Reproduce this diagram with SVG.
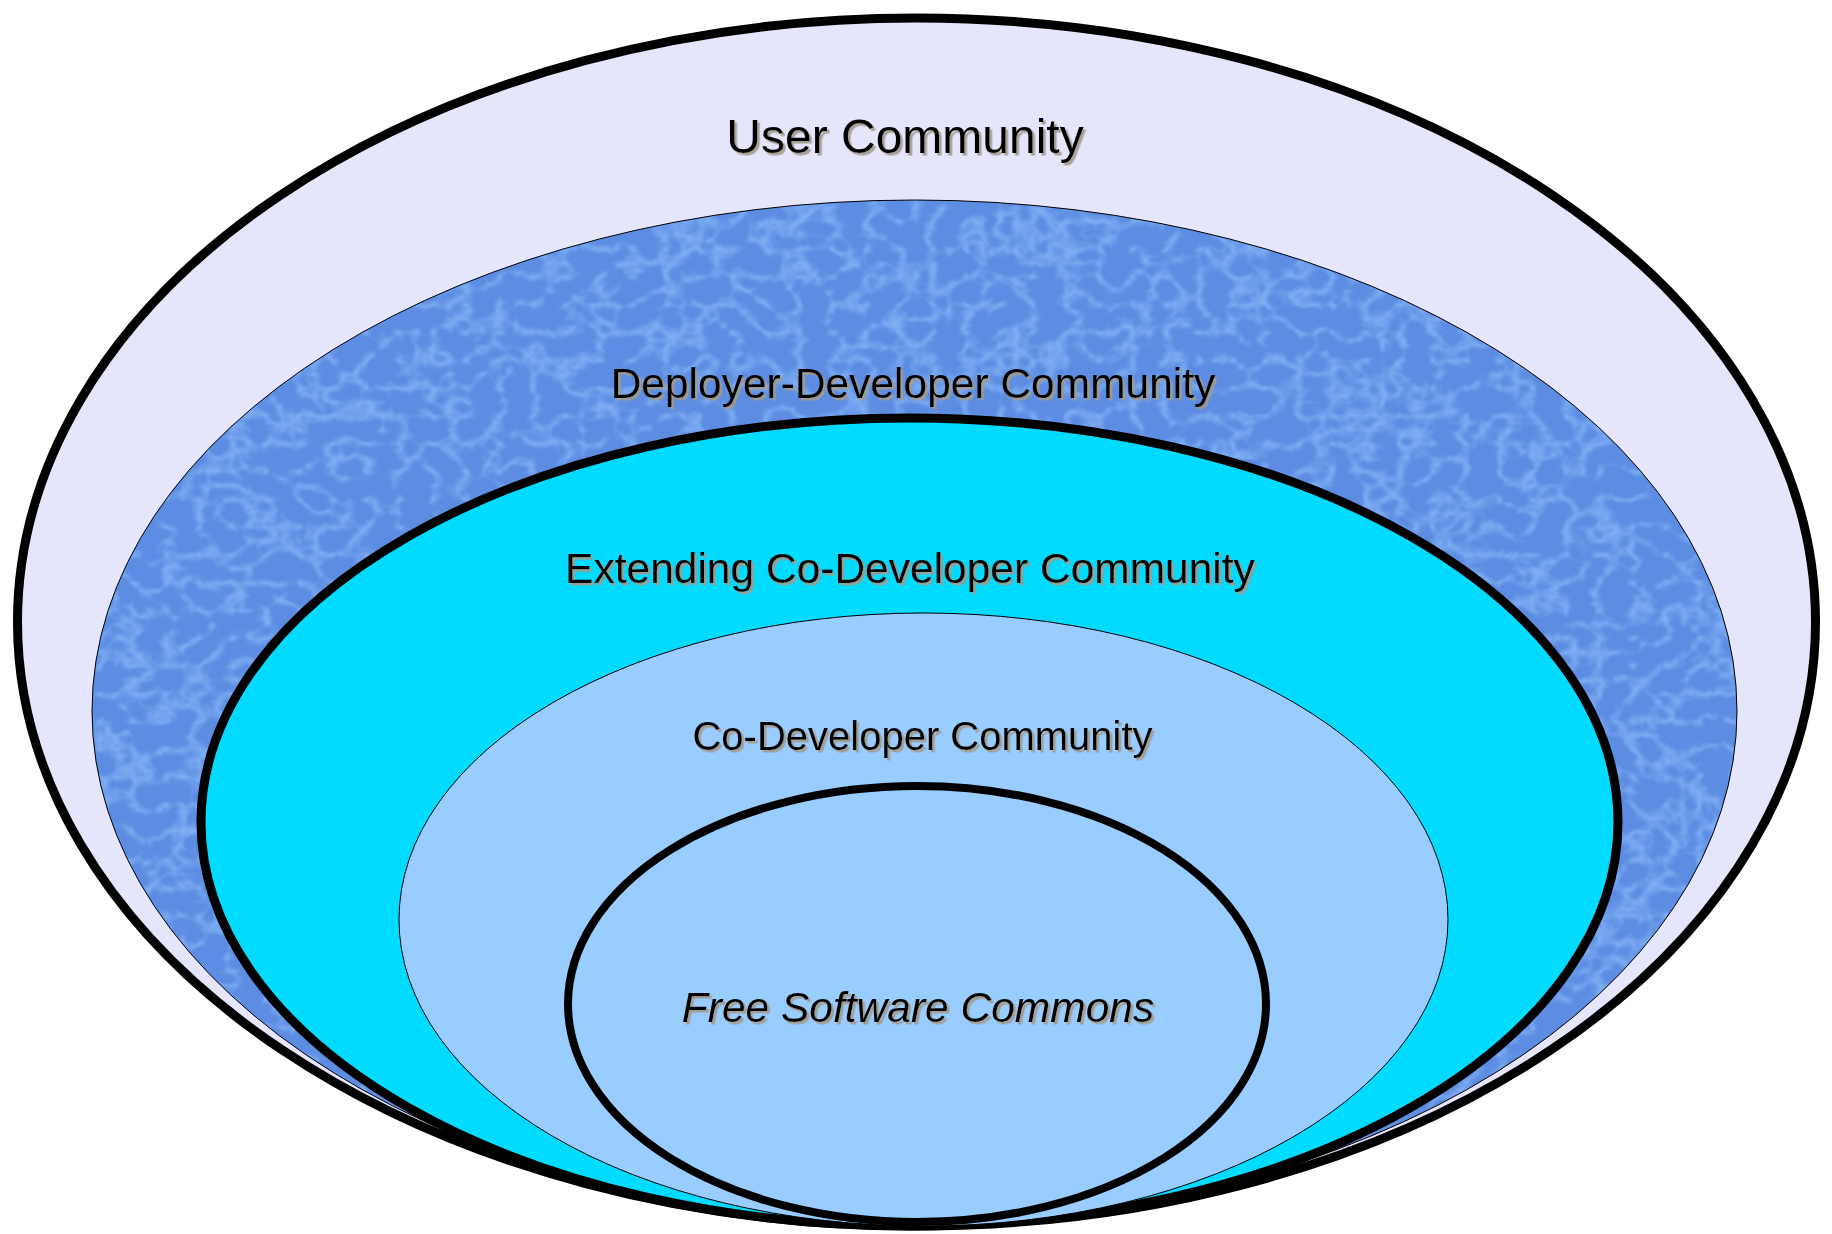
<svg xmlns="http://www.w3.org/2000/svg" width="1832" height="1234" viewBox="0 0 1832 1234">
  <defs>
    <filter id="shadow" x="-5%" y="-20%" width="110%" height="150%">
      <feDropShadow dx="2.5" dy="2.5" stdDeviation="0.6" flood-color="#a39a8c" flood-opacity="0.9"/>
    </filter>
    <filter id="water" x="0" y="0" width="100%" height="100%" color-interpolation-filters="sRGB">
      <feTurbulence type="turbulence" baseFrequency="0.03 0.036" numOctaves="3" seed="11" result="t"/>
      <feColorMatrix in="t" type="matrix" values="0 0 0 0 0.58  0 0 0 0 0.76  0 0 0 0 1  -2.2 0 0 0 0.72" result="c"/>
      <feGaussianBlur in="c" stdDeviation="0.9" result="cb"/>
      <feComposite in="cb" in2="SourceGraphic" operator="in" result="s"/>
      <feMerge>
        <feMergeNode in="SourceGraphic"/>
        <feMergeNode in="s"/>
      </feMerge>
    </filter>
    <style>
      .lbl { font-family: "Liberation Sans", Arial, sans-serif; fill: #000; text-anchor: middle; filter: url(#shadow); }
      .thick { stroke: #000; stroke-width: 9; }
      .thin { stroke: #000; stroke-width: 1; }
    </style>
  </defs>

  <g id="user-community">
    <ellipse cx="916.5" cy="622" rx="899" ry="604" fill="#e5e5fb" class="thick"/>
    <text class="lbl" x="905" y="153" font-size="48">User Community</text>
  </g>

  <g id="deployer-developer-community">
    <ellipse cx="914.5" cy="711" rx="822.5" ry="511" fill="#5c8de2" filter="url(#water)"/>
    <ellipse cx="914.5" cy="711" rx="822.5" ry="511" fill="none" class="thin"/>
    <text class="lbl" x="913" y="398" font-size="42.5">Deployer-Developer Community</text>
  </g>

  <g id="extending-co-developer-community">
    <ellipse cx="909.5" cy="822" rx="708.5" ry="404" fill="#00dbff" class="thick"/>
    <text class="lbl" x="910" y="583" font-size="42.5">Extending Co-Developer Community</text>
  </g>

  <g id="co-developer-community">
    <ellipse cx="923.5" cy="919.5" rx="524.5" ry="306.5" fill="#99ccff" class="thin"/>
    <text class="lbl" x="922.5" y="750" font-size="40">Co-Developer Community</text>
  </g>

  <g id="free-software-commons">
    <ellipse cx="917" cy="1004" rx="349" ry="218" fill="#99ccff" stroke="#000" stroke-width="8"/>
    <text class="lbl" x="918" y="1022" font-size="42.5" font-style="italic">Free Software Commons</text>
  </g>

  <g id="connectors"/>
</svg>
